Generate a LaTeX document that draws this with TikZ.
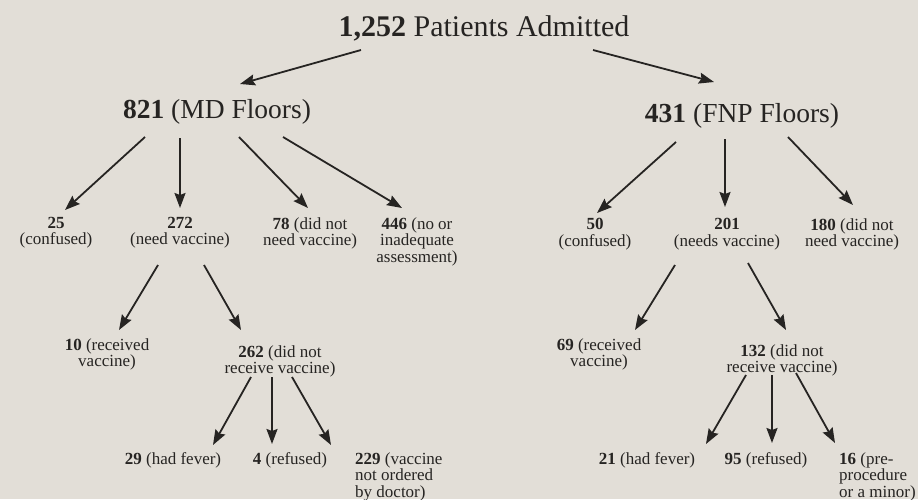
\documentclass[tikz,border=0pt]{standalone}
\usepackage{fontspec}
\setmainfont{Liberation Serif}
\usetikzlibrary{arrows.meta}
\definecolor{paper}{RGB}{226,222,215}
\definecolor{ink}{RGB}{38,36,34}

\begin{document}
\begin{tikzpicture}[
  x=1pt,y=-1pt,
  color=ink,
  head/.style={font=\fontsize{30}{32}\selectfont,anchor=base,inner sep=0pt},
  floor/.style={font=\fontsize{27.5}{30}\selectfont,anchor=base,inner sep=0pt},
  count/.style={font=\fontsize{17}{16.5}\selectfont,align=center,anchor=north,inner sep=0pt},
  countl/.style={count,align=left,anchor=north west},
  arr/.style={-{Stealth[length=15pt,width=11pt,inset=2pt]},line width=1.8pt},
]
  \fill[paper] (0,0) rectangle (918,499);
  \useasboundingbox (0,0) rectangle (918,499);

  \node[head] (all) at (484,36) {\textbf{1,252} Patients Admitted};
  \node[floor] (md) at (217,118) {\textbf{821} (MD Floors)};
  \node[floor] (fnp) at (742,122) {\textbf{431} (FNP Floors)};

  \node[count] (c25) at (56,217) {\textbf{25}\\(confused)};
  \node[count] (c272) at (180,217) {\textbf{272}\\(need vaccine)};
  \node[count] (c78) at (310,217) {\textbf{78} (did not\\need vaccine)};
  \node[count] (c446) at (417,217) {\textbf{446} (no or\\inadequate\\assessment)};
  \node[count] (c50) at (595,218) {\textbf{50}\\(confused)};
  \node[count] (c201) at (727,218) {\textbf{201}\\(needs vaccine)};
  \node[count] (c180) at (852,218) {\textbf{180} (did not\\need vaccine)};

  \node[count] (c10) at (107,338) {\textbf{10} (received\\vaccine)};
  \node[count] (c262) at (280,345) {\textbf{262} (did not\\receive vaccine)};
  \node[count] (c69) at (599,338) {\textbf{69} (received\\vaccine)};
  \node[count] (c132) at (782,344) {\textbf{132} (did not\\receive vaccine)};

  \node[count] (c29) at (173,452) {\textbf{29} (had fever)};
  \node[count] (c4) at (290,452) {\textbf{4} (refused)};
  \node[countl] (c229) at (355,452) {\textbf{229} (vaccine\\not ordered\\by doctor)};
  \node[count] (c21) at (647,452) {\textbf{21} (had fever)};
  \node[count] (c95) at (766,452) {\textbf{95} (refused)};
  \node[countl] (c16) at (839,452) {\textbf{16} (pre-\\procedure\\or a minor)};

  % admitted -> floors
  \draw[arr] ([shift={(-123,14)}]all.base) -- ([shift={(23,-34)}]md.base);
  \draw[arr] ([shift={(109,14)}]all.base) -- ([shift={(-28,-40)}]fnp.base);

  % MD floors
  \draw[arr] ([shift={(-72,19)}]md.base) -- ([shift={(9,-7)}]c25.north);
  \draw[arr] ([shift={(-37,20)}]md.base) -- ([shift={(0,-9)}]c272.north);
  \draw[arr] ([shift={(22,19)}]md.base) -- ([shift={(-2,-9)}]c78.north);
  \draw[arr] ([shift={(66,19)}]md.base) -- ([shift={(-15,-9)}]c446.north);
  \draw[arr] ([shift={(-22,48)}]c272.north) -- ([shift={(12,-8)}]c10.north);
  \draw[arr] ([shift={(24,48)}]c272.north) -- ([shift={(-39,-15)}]c262.north);
  \draw[arr] ([shift={(-29,32)}]c262.north) -- ([shift={(40,-7)}]c29.north);
  \draw[arr] ([shift={(-8,32)}]c262.north) -- ([shift={(-18,-8)}]c4.north);
  \draw[arr] ([shift={(12,32)}]c262.north) -- ([shift={(-24,-7)}]c229.north west);

  % FNP floors
  \draw[arr] ([shift={(-66,20)}]fnp.base) -- ([shift={(2,-5)}]c50.north);
  \draw[arr] ([shift={(-17,17)}]fnp.base) -- ([shift={(-2,-11)}]c201.north);
  \draw[arr] ([shift={(46,15)}]fnp.base) -- ([shift={(1,-13)}]c180.north);
  \draw[arr] ([shift={(-52,47)}]c201.north) -- ([shift={(36,-8)}]c69.north);
  \draw[arr] ([shift={(21,45)}]c201.north) -- ([shift={(4,-14)}]c132.north);
  \draw[arr] ([shift={(-36,31)}]c132.north) -- ([shift={(59,-8)}]c21.north);
  \draw[arr] ([shift={(-10,31)}]c132.north) -- ([shift={(6,-9)}]c95.north);
  \draw[arr] ([shift={(14,29)}]c132.north) -- ([shift={(-4,-9)}]c16.north west);
\end{tikzpicture}
\end{document}
